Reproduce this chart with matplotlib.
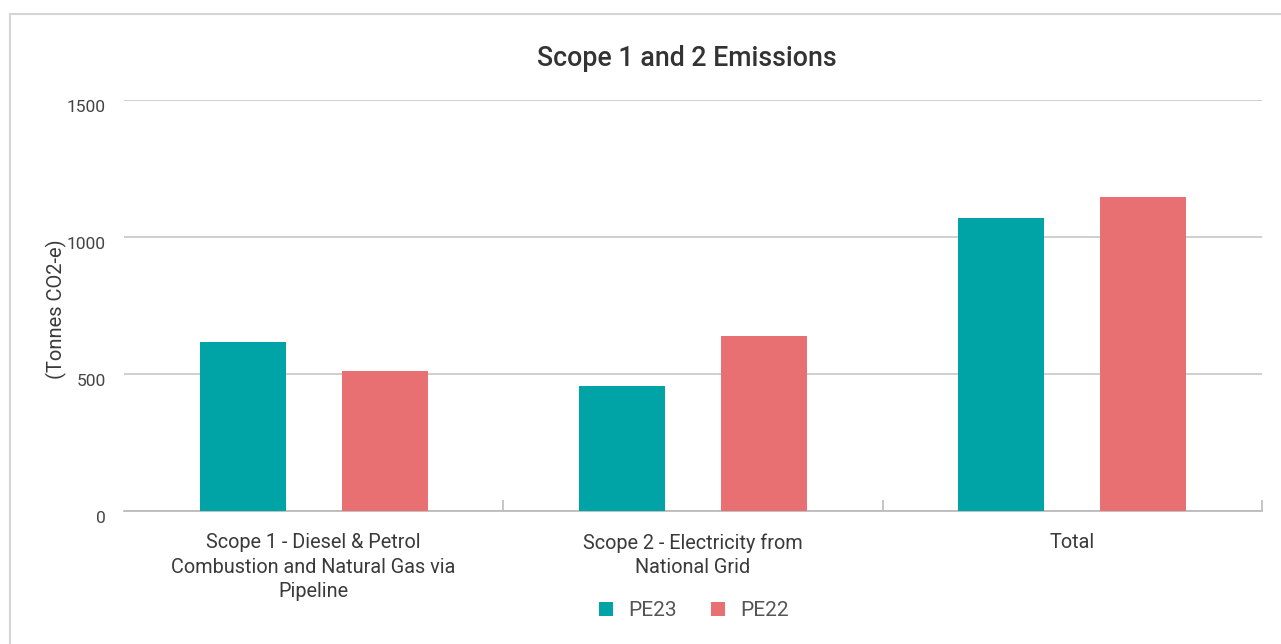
import numpy as np
import matplotlib.pyplot as plt
from matplotlib.lines import Line2D

# values (tonnes CO2-e)
categories = ["Scope 1 - Diesel & Petrol\nCombustion and Natural Gas via\nPipeline",
              "Scope 2 - Electricity from\nNational Grid",
              "Total"]
pe23 = [615, 455, 1070]
pe22 = [510, 637, 1147]
series_names = ["PE23", "PE22"]
yticks = [0, 500, 1000, 1500]

teal = "#00A3A6"
coral = "#E87073"

plt.rcParams['font.family'] = ['Roboto', 'DejaVu Sans']

fig = plt.figure(figsize=(12.81, 6.44), dpi=100)
W, H = 1281, 644
ax = fig.add_axes([124 / W, 1 - 511 / H, (1262 - 124) / W, (511 - 100) / H])

x = np.arange(len(categories))
bw = 0.227
off = 0.187
b1 = ax.bar(x - off, pe23, width=bw, color=teal, label=series_names[0], zorder=3)
b2 = ax.bar(x + off, pe22, width=bw, color=coral, label=series_names[1], zorder=3)

ax.set_xlim(-0.5, len(categories) - 0.5)
ax.set_ylim(0, 1500)
ax.set_yticks(yticks)
ax.set_yticklabels([str(v) for v in yticks], va='top')
ax.tick_params(axis='y', length=0, pad=13, labelsize=12.5, labelcolor='#444444')
ax.grid(axis='y', color='#cccccc', linewidth=1.3, zorder=0)

ax.set_xticks(x)
ax.set_xticklabels(categories, fontsize=14.3, color='#3a3a3a', linespacing=1.36, va='top')
ax.tick_params(axis='x', which='major', length=0, pad=16)
ax.set_xticks(np.arange(len(categories)) + 0.5, minor=True)
ax.tick_params(axis='x', which='minor', direction='in', length=8, width=1.2, color='#bbbbbb')

for s in ['top', 'right', 'left']:
    ax.spines[s].set_visible(False)
ax.spines['bottom'].set_color('#bbbbbb')
ax.spines['bottom'].set_linewidth(1.3)

ax.set_ylabel("(Tonnes CO2-e)", fontsize=14.5, color='#3a3a3a')
ax.yaxis.set_label_coords(-57 / (1262 - 124), 0.49)

fig.text(687 / W, 1 - 59 / H, "Scope 1 and 2 Emissions", ha='center', va='center',
         fontsize=19.3, fontweight='medium', color='#333333')

leg = fig.legend(handles=[b1, b2], labels=series_names, loc='center',
                 bbox_to_anchor=(694 / W, 1 - 611 / H), ncol=2, frameon=False,
                 fontsize=15, handlelength=0.67, handleheight=0.67, columnspacing=1.6,
                 handletextpad=0.75)
for t in leg.get_texts():
    t.set_color('#555555')

# page border lines (top and left)
fig.add_artist(Line2D([10 / W, 1], [1 - 14 / H, 1 - 14 / H], color='#d5d5d5', linewidth=1.5))
fig.add_artist(Line2D([10 / W, 10 / W], [0, 1 - 14 / H], color='#d5d5d5', linewidth=1.5))

fig.savefig("out.png", dpi=100)
